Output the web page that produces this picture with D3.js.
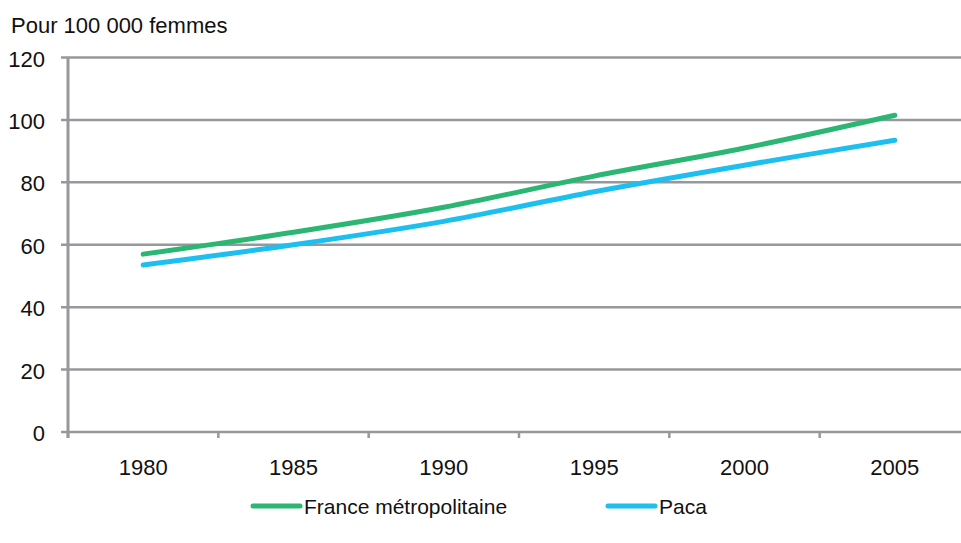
<!DOCTYPE html>
<html>
<head>
<meta charset="utf-8">
<script src="https://cdn.jsdelivr.net/npm/d3@7"></script>
<style>
  body { margin: 0; background: #fff; }
  svg { display: block; font-family: "Liberation Sans", Arial, sans-serif; }
</style>
</head>
<body>
<svg id="chart" width="961" height="543"></svg>
<script>
var years = ['1980', '1985', '1990', '1995', '2000', '2005'];
var france = [57, 64, 72, 82, 91, 101.5];
var paca = [53.5, 60, 67.5, 77, 85.5, 93.5];
var yTicks = [0, 20, 40, 60, 80, 100, 120];
var seriesNames = ['France métropolitaine', 'Paca'];
var seriesColors = ['#2bb673', '#1cbff0'];

var W = 961;
var plotLeft = 68, plotRight = 970, plotTop = 57.5, plotBottom = 432;
var gridColor = '#97989b';

var svg = d3.select('#chart');

var x = d3.scaleBand().domain(years).range([plotLeft, plotRight]);
var y = d3.scaleLinear().domain([0, 120]).range([plotBottom, plotTop]);

// unit label
svg.append('text')
    .attr('x', 11)
    .attr('y', 33)
    .attr('font-size', 22)
    .attr('fill', '#111')
    .text('Pour 100 000 femmes');

// gridlines with their left ticks
svg.append('g').selectAll('line')
    .data(yTicks)
    .join('line')
    .attr('x1', plotLeft - 7)
    .attr('x2', W)
    .attr('y1', function(d) { return y(d); })
    .attr('y2', function(d) { return y(d); })
    .attr('stroke', gridColor)
    .attr('stroke-width', 2.5);

svg.append('g').selectAll('text')
    .data(yTicks)
    .join('text')
    .attr('x', 45)
    .attr('y', function(d) { return y(d) + 9; })
    .attr('text-anchor', 'end')
    .attr('font-size', 22)
    .attr('fill', '#111')
    .text(function(d) { return d; });

// y axis line
svg.append('line')
    .attr('x1', plotLeft).attr('x2', plotLeft)
    .attr('y1', plotTop).attr('y2', plotBottom + 6)
    .attr('stroke', gridColor)
    .attr('stroke-width', 3);

// x ticks at band boundaries
svg.append('g').selectAll('line')
    .data(years)
    .join('line')
    .attr('x1', function(d) { return x(d); })
    .attr('x2', function(d) { return x(d); })
    .attr('y1', plotBottom)
    .attr('y2', plotBottom + 6)
    .attr('stroke', gridColor)
    .attr('stroke-width', 2.5);

svg.append('g').selectAll('text')
    .data(years)
    .join('text')
    .attr('x', function(d) { return x(d) + x.bandwidth() / 2; })
    .attr('y', 475)
    .attr('text-anchor', 'middle')
    .attr('font-size', 22)
    .attr('fill', '#111')
    .text(function(d) { return d; });

// series lines (smoothed)
var line = d3.line()
    .x(function(d, i) { return x(years[i]) + x.bandwidth() / 2; })
    .y(function(d) { return y(d); })
    .curve(d3.curveCatmullRom.alpha(0));

[france, paca].forEach(function(values, i) {
    svg.append('path')
        .datum(values)
        .attr('d', line)
        .attr('fill', 'none')
        .attr('stroke', seriesColors[i])
        .attr('stroke-width', 5)
        .attr('stroke-linecap', 'round')
        .attr('stroke-linejoin', 'round');
});

// legend
var legendX = [253, 608];
var legend = svg.append('g').selectAll('g')
    .data(seriesNames)
    .join('g')
    .attr('transform', function(d, i) { return 'translate(' + legendX[i] + ',506)'; });

legend.append('line')
    .attr('x1', 0).attr('x2', 47)
    .attr('stroke', function(d, i) { return seriesColors[i]; })
    .attr('stroke-width', 5)
    .attr('stroke-linecap', 'round');

legend.append('text')
    .attr('x', 51)
    .attr('y', 8)
    .attr('font-size', 21)
    .attr('fill', '#111')
    .text(function(d) { return d; });
</script>
</body>
</html>
